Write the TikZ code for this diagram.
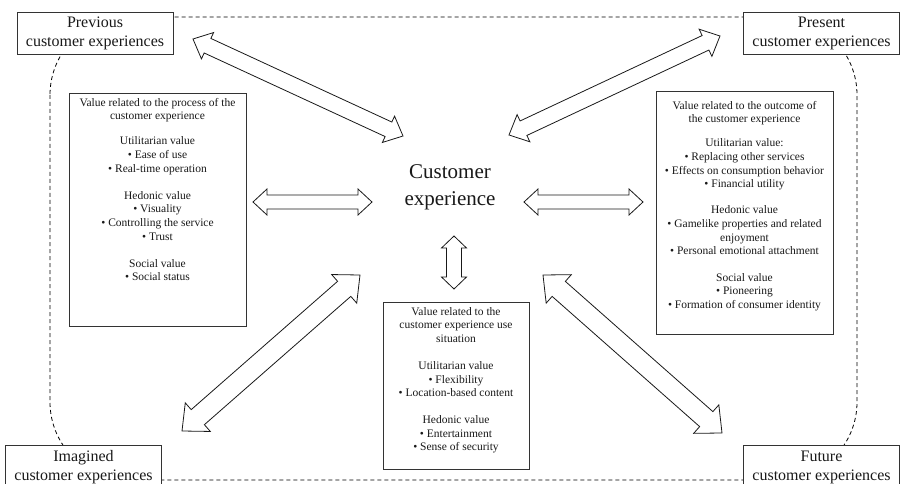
\documentclass[tikz,border=0pt]{standalone}
\usepackage{fontspec}
\setmainfont{Liberation Serif}
\usetikzlibrary{calc}
\newcommand{\blockarr}[5]{% #1 from, #2 to, #3 head length, #4 head half-width, #5 shaft half-width
  \draw[blockline] (#1)
    -- ($(#1)!#3!(#2)!#4!90:(#2)$)
    -- ($(#1)!#3!(#2)!#5!90:(#2)$)
    -- ($(#2)!#3!(#1)!#5!-90:(#1)$)
    -- ($(#2)!#3!(#1)!#4!-90:(#1)$)
    -- (#2)
    -- ($(#2)!#3!(#1)!#4!90:(#1)$)
    -- ($(#2)!#3!(#1)!#5!90:(#1)$)
    -- ($(#1)!#3!(#2)!#5!-90:(#2)$)
    -- ($(#1)!#3!(#2)!#4!-90:(#2)$)
    -- cycle;}
\begin{document}
\begin{tikzpicture}[x=1pt,y=-1pt,
  cornerbox/.style={draw=black!80, line width=0.9pt, fill=white, minimum width=156pt,
    minimum height=42pt, inner sep=0pt, align=center, text=black!90,
    font=\fontsize{16}{19}\selectfont},
  valbox/.style={draw=black!80, line width=0.9pt, fill=white, inner sep=0pt},
  valtext/.style={align=center, inner sep=0pt, anchor=north, text=black!90,
    font=\fontsize{11.5}{13.6}\selectfont},
  maintext/.style={align=center, inner sep=0pt, text=black!90,
    font=\fontsize{21}{27}\selectfont},
  blockline/.style={draw=black!90, line width=0.8pt, fill=white, line join=miter},
  frame/.style={draw=black, line width=0.8pt, dash pattern=on 4pt off 3pt,
    rounded corners=78pt}]
\useasboundingbox (0,0) rectangle (900,484);
\fill[white] (0,0) rectangle (900,484);
% dashed frame
\draw[frame] (50,17) rectangle (857,480);
% corner boxes
\node[cornerbox] (prev) at (95,33) {Previous\\customer experiences};
\node[cornerbox] (pres) at (821.5,33) {Present\\customer experiences};
\node[cornerbox, minimum height=44pt] (imag) at (83.5,467) {Imagined\\customer experiences};
\node[cornerbox, minimum height=44pt] (fut) at (821.5,467) {Future\\customer experiences};
% value boxes
\node[valbox, minimum width=177pt, minimum height=233pt] (lbox) at (157.5,209.5) {};
\node[valtext] (ltext) at (157.5,98) {Value related to the process of the\\customer experience\\[11.5pt]Utilitarian value\\\textbullet{} Ease of use\\\textbullet{} Real-time operation\\[13.5pt]Hedonic value\\\textbullet{} Visuality\\\textbullet{} Controlling the service\\\textbullet{} Trust\\[13.5pt]Social value\\\textbullet{} Social status};
\node[valbox, minimum width=177pt, minimum height=243pt] (rbox) at (744.5,212.5) {};
\node[valtext] (rtext) at (744.5,101) {Value related to the outcome of\\the customer experience\\[10.5pt]Utilitarian value:\\\textbullet{} Replacing other services\\\textbullet{} Effects on consumption behavior\\\textbullet{} Financial utility\\[12.5pt]Hedonic value\\\textbullet{} Gamelike properties and related\\enjoyment\\\textbullet{} Personal emotional attachment\\[13pt]Social value\\\textbullet{} Pioneering\\\textbullet{} Formation of consumer identity};
\node[valbox, minimum width=146pt, minimum height=167pt] (bbox) at (456,385.5) {};
\node[valtext] (btext) at (456,307) {Value related to the\\customer experience use\\situation\\[13.5pt]Utilitarian value\\\textbullet{} Flexibility\\\textbullet{} Location-based content\\[13.5pt]Hedonic value\\\textbullet{} Entertainment\\\textbullet{} Sense of security};
% centre
\node[maintext] (ce) at (450,187) {Customer\\experience};
% arrow end points
\coordinate (a1) at (193,39);  \coordinate (a2) at (403,136);
\coordinate (b1) at (509,135); \coordinate (b2) at (720,36);
\coordinate (c1) at (360,275); \coordinate (c2) at (182,431);
\coordinate (d1) at (543,275); \coordinate (d2) at (722,433);
\coordinate (e1) at (253,202); \coordinate (e2) at (372,202);
\coordinate (f1) at (524,202); \coordinate (f2) at (643,202);
\coordinate (g1) at (454,236); \coordinate (g2) at (454,289);
% arrows
\blockarr{a1}{a2}{16pt}{14.5pt}{8pt}
\blockarr{b1}{b2}{16pt}{15pt}{8pt}
\blockarr{c1}{c2}{21pt}{19pt}{10pt}
\blockarr{d1}{d2}{21pt}{19pt}{10pt}
\blockarr{e1}{e2}{14pt}{13pt}{7pt}
\blockarr{f1}{f2}{14pt}{13pt}{7pt}
\blockarr{g1}{g2}{12pt}{12.5pt}{7.5pt}
\end{tikzpicture}
\end{document}
